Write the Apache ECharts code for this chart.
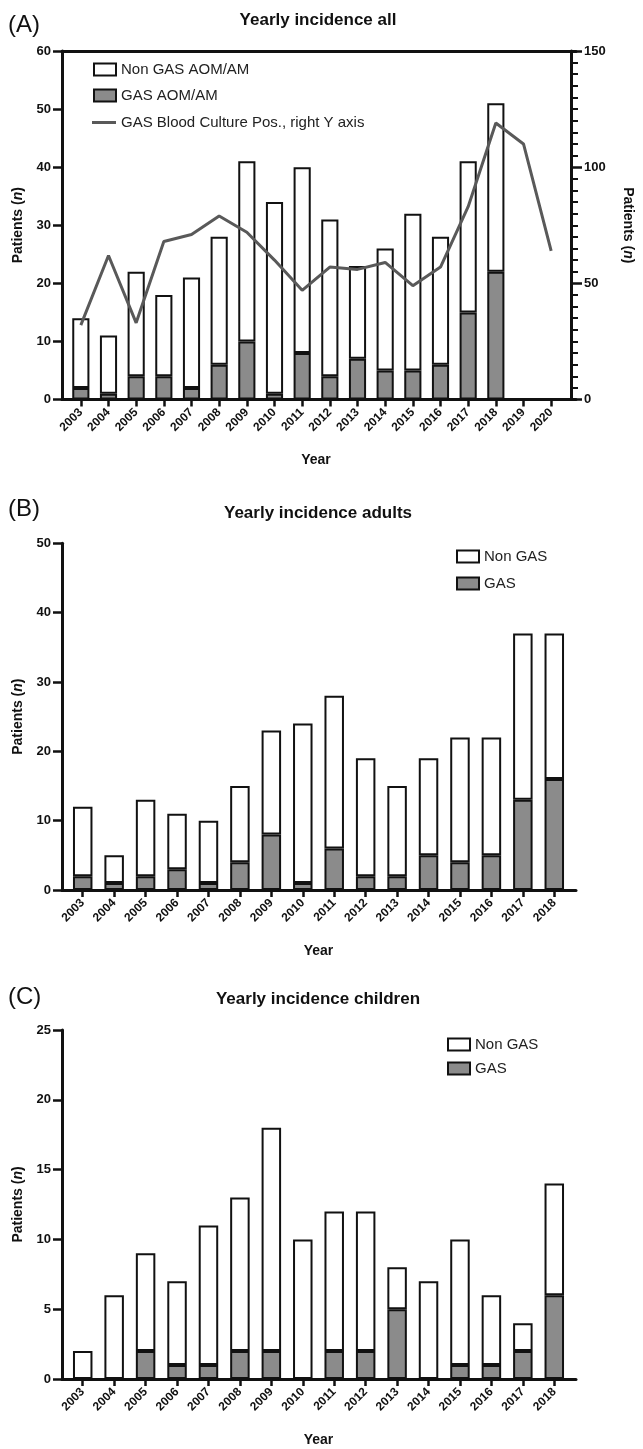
<!DOCTYPE html>
<html>
<head>
<meta charset="utf-8">
<script src="https://cdn.jsdelivr.net/npm/echarts@6/dist/echarts.min.js"></script>
<style>
html,body{margin:0;padding:0;background:#fff;}
#chart{width:643px;height:1449px;}
</style>
</head>
<body>
<div id="chart"></div>
<script>
// ---------- DATA ----------
const yearsAll = ['2003','2004','2005','2006','2007','2008','2009','2010','2011','2012','2013','2014','2015','2016','2017','2018','2019','2020'];
const yearsSub = ['2003','2004','2005','2006','2007','2008','2009','2010','2011','2012','2013','2014','2015','2016','2017','2018'];

// Panel A: all patients (stacked: GAS bottom, Non GAS on top)
const allGAS    = [2, 1, 4, 4, 2, 6, 10, 1, 8, 4, 7, 5, 5, 6, 15, 22, null, null];
const allNonGAS = [12, 10, 18, 14, 19, 22, 31, 33, 32, 27, 16, 21, 27, 22, 26, 29, null, null];
const bloodCulturePos = [32, 62, 33, 68, 71, 79, 72, 60, 47, 57, 56, 59, 49, 57, 83, 119, 110, 64];

// Panel B: adults
const adultGAS    = [2, 1, 2, 3, 1, 4, 8, 1, 6, 2, 2, 5, 4, 5, 13, 16];
const adultNonGAS = [10, 4, 11, 8, 9, 11, 15, 23, 22, 17, 13, 14, 18, 17, 24, 21];

// Panel C: children
const childGAS    = [0, 0, 2, 1, 1, 2, 2, 0, 2, 2, 5, 0, 1, 1, 2, 6];
const childNonGAS = [2, 6, 7, 6, 10, 11, 16, 10, 10, 10, 3, 7, 9, 5, 2, 8];

// Tick settings
const axisA = {min: 0, max: 60, interval: 10};
const axisARight = {min: 0, max: 150, interval: 50};
const axisB = {min: 0, max: 50, interval: 10};
const axisC = {min: 0, max: 25, interval: 5};

// ---------- STYLE ----------
const FONT = 'Liberation Sans, Arial, Helvetica, sans-serif';
const BLACK = '#111';
const GRAY = '#8b8b8b';
const LINEGRAY = '#595959';

const panels = [
  {top: 51, height: 348.5},
  {top: 543.3, height: 346.7},
  {top: 1030, height: 349}
];
const dataLeft = 67, dataWidth = 503;
const frameLeft = 62, frameWidth = 514;

const grids = [];
panels.forEach(p => {
  grids.push({left: dataLeft, width: dataWidth, top: p.top, height: p.height, containLabel: false});
  grids.push({left: frameLeft, width: frameWidth, top: p.top, height: p.height, containLabel: false});
});

const nameRich = {
  i: {fontStyle: 'italic', fontWeight: 'bold', fontSize: 14, fontFamily: FONT, color: BLACK}
};

function catAxis(gridIndex, data) {
  return {
    type: 'category', gridIndex, data, boundaryGap: true,
    axisLine: {show: false},
    axisTick: {show: true, alignWithLabel: true, length: 7, lineStyle: {color: BLACK, width: 2.5}},
    axisLabel: {rotate: 45, margin: 11, fontSize: 12, fontWeight: 'bold', fontFamily: FONT, color: BLACK, interval: 0},
    name: 'Year', nameLocation: 'middle', nameGap: 54,
    nameTextStyle: {fontSize: 14, fontWeight: 'bold', fontFamily: FONT, color: BLACK},
    splitLine: {show: false}
  };
}
function frameX(gridIndex, position) {
  return {
    type: 'value', gridIndex, position, min: 0, max: 1,
    axisLine: {show: true, onZero: false, lineStyle: {color: BLACK, width: 3}},
    axisTick: {show: false}, axisLabel: {show: false}, splitLine: {show: false}
  };
}
function frameY(gridIndex) {
  return {type: 'value', gridIndex, min: 0, max: 1, show: false};
}
function leftY(gridIndex, ax) {
  return {
    type: 'value', gridIndex, position: 'left', offset: 5,
    min: ax.min, max: ax.max, interval: ax.interval,
    axisLine: {show: true, onZero: false, lineStyle: {color: BLACK, width: 3}},
    axisTick: {show: true, length: 9, lineStyle: {color: BLACK, width: 2.5}},
    axisLabel: {margin: 11, fontSize: 13, fontWeight: 'bold', fontFamily: FONT, color: BLACK},
    splitLine: {show: false},
    name: 'Patients ({i|n})', nameLocation: 'middle', nameGap: 31,
    nameTextStyle: {fontSize: 14, fontWeight: 'bold', fontFamily: FONT, color: BLACK, rich: nameRich}
  };
}

const xAxes = [
  catAxis(0, yearsAll),          // 0
  frameX(1, 'bottom'),           // 1
  frameX(1, 'top'),              // 2
  catAxis(2, yearsSub),          // 3
  frameX(3, 'bottom'),           // 4
  catAxis(4, yearsSub),          // 5
  frameX(5, 'bottom')            // 6
];

const yAxes = [
  leftY(0, axisA),               // 0
  {                              // 1 right axis panel A
    type: 'value', gridIndex: 0, position: 'right', offset: 6,
    min: axisARight.min, max: axisARight.max, interval: axisARight.interval,
    axisLine: {show: true, onZero: false, lineStyle: {color: BLACK, width: 3}},
    axisTick: {show: true, length: 11, lineStyle: {color: BLACK, width: 2.5}},
    minorTick: {show: true, splitNumber: 10, length: 7, lineStyle: {color: BLACK, width: 2}},
    axisLabel: {margin: 13, fontSize: 13, fontWeight: 'bold', fontFamily: FONT, color: BLACK},
    splitLine: {show: false}, minorSplitLine: {show: false},
    name: 'Patients ({i|n})', nameLocation: 'middle', nameGap: 50, nameRotate: -90,
    nameTextStyle: {fontSize: 14, fontWeight: 'bold', fontFamily: FONT, color: BLACK, rich: nameRich}
  },
  frameY(1),                     // 2
  leftY(2, axisB),               // 3
  frameY(3),                     // 4
  leftY(4, axisC),               // 5
  frameY(5)                      // 6
];

const barBase = {
  type: 'bar', barWidth: '62%',
  itemStyle: {borderColor: BLACK, borderWidth: 2}
};

const series = [
  Object.assign({}, barBase, {name: 'GAS AOM/AM', xAxisIndex: 0, yAxisIndex: 0, stack: 'A', data: allGAS,
    itemStyle: {color: GRAY, borderColor: BLACK, borderWidth: 2}}),
  Object.assign({}, barBase, {name: 'Non GAS AOM/AM', xAxisIndex: 0, yAxisIndex: 0, stack: 'A', data: allNonGAS,
    itemStyle: {color: '#fff', borderColor: BLACK, borderWidth: 2}}),
  {name: 'GAS Blood Culture Pos., right Y axis', type: 'line', xAxisIndex: 0, yAxisIndex: 1,
    data: bloodCulturePos, symbol: 'none', z: 5,
    lineStyle: {color: LINEGRAY, width: 3}, itemStyle: {color: LINEGRAY}},
  Object.assign({}, barBase, {name: 'GAS', xAxisIndex: 3, yAxisIndex: 3, stack: 'B', data: adultGAS,
    itemStyle: {color: GRAY, borderColor: BLACK, borderWidth: 2}}),
  Object.assign({}, barBase, {name: 'Non GAS', xAxisIndex: 3, yAxisIndex: 3, stack: 'B', data: adultNonGAS,
    itemStyle: {color: '#fff', borderColor: BLACK, borderWidth: 2}}),
  Object.assign({}, barBase, {name: 'GAS', xAxisIndex: 5, yAxisIndex: 5, stack: 'C', data: childGAS,
    itemStyle: {color: GRAY, borderColor: BLACK, borderWidth: 2}}),
  Object.assign({}, barBase, {name: 'Non GAS', xAxisIndex: 5, yAxisIndex: 5, stack: 'C', data: childNonGAS,
    itemStyle: {color: '#fff', borderColor: BLACK, borderWidth: 2}})
];

const legendText = {fontSize: 15, fontFamily: FONT, color: '#222'};
const legends = [
  {orient: 'vertical', left: 88, top: 57, itemWidth: 22, itemHeight: 12, itemGap: 11, icon: 'rect',
   data: ['Non GAS AOM/AM', 'GAS AOM/AM'],
   textStyle: legendText, selectedMode: false},
  {orient: 'vertical', left: 87, top: 110, itemWidth: 24, itemHeight: 3, icon: 'rect',
   data: ['GAS Blood Culture Pos., right Y axis'],
   textStyle: legendText, selectedMode: false},
  {orient: 'vertical', left: 451, top: 544, itemWidth: 22, itemHeight: 12, itemGap: 12, icon: 'rect',
   data: ['Non GAS', 'GAS'], textStyle: legendText, selectedMode: false},
  {orient: 'vertical', left: 442, top: 1032, itemWidth: 22, itemHeight: 12, itemGap: 9, icon: 'rect',
   data: ['Non GAS', 'GAS'], textStyle: legendText, selectedMode: false}
];

function label(text, x, y, size, weight) {
  return {type: 'text', x: x, y: y, silent: true,
    style: {text: text, font: (weight || 'normal') + ' ' + size + 'px ' + FONT, fill: BLACK,
      textAlign: weight === 'bold' ? 'center' : 'left', textVerticalAlign: 'middle',
      align: weight === 'bold' ? 'center' : 'left', verticalAlign: 'middle'}};
}
const graphics = [
  label('(A)', 8, 25, 24),
  label('Yearly incidence all', 318, 20, 17, 'bold'),
  label('(B)', 8, 509, 24),
  label('Yearly incidence adults', 318, 513, 17, 'bold'),
  label('(C)', 8, 997, 24),
  label('Yearly incidence children', 318, 999, 17, 'bold')
];

const chart = echarts.init(document.getElementById('chart'), null, {renderer: 'canvas'});
chart.setOption({
  animation: false,
  backgroundColor: '#fff',
  textStyle: {fontFamily: FONT},
  grid: grids,
  xAxis: xAxes,
  yAxis: yAxes,
  legend: legends,
  series: series,
  graphic: graphics
});
</script>
</body>
</html>
